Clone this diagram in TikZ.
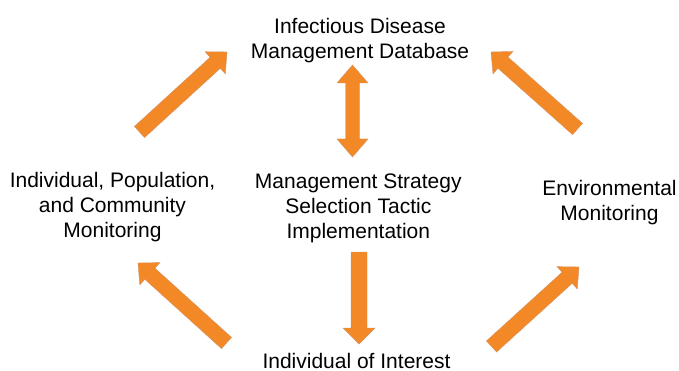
\documentclass[tikz,border=0pt]{standalone}
\usepackage{fontspec}
\setmainfont{Liberation Sans}
\usetikzlibrary{calc}

\definecolor{arroworange}{RGB}{242,137,38}
\definecolor{arrowedge}{RGB}{214,145,100}

\tikzset{
  lbl/.style={font=\fontsize{21}{25}\selectfont, align=center, inner sep=0pt, anchor=north},
  blockarrow/.style={fill=arroworange, draw=arrowedge, line width=0.4pt, line join=miter},
}

% single-headed block arrow: tail, tip, half shaft width, half head width, head length
\newcommand{\blockarrow}[5]{%
  \coordinate (ba-neck) at ($(#2)!#5!(#1)$);
  \filldraw[blockarrow]
    ($(#1)!#3!90:(#2)$) -- ($(ba-neck)!#3!-90:(#1)$) -- ($(ba-neck)!#4!-90:(#1)$)
    -- (#2) -- ($(ba-neck)!#4!90:(#1)$) -- ($(ba-neck)!#3!90:(#1)$)
    -- ($(#1)!#3!-90:(#2)$) -- cycle;
}

% double-headed block arrow: end A, end B, half shaft width, half head width, head length
\newcommand{\twowayarrow}[5]{%
  \coordinate (ba-necka) at ($(#1)!#5!(#2)$);
  \coordinate (ba-neckb) at ($(#2)!#5!(#1)$);
  \filldraw[blockarrow]
    (#1) -- ($(ba-necka)!#4!90:(#2)$) -- ($(ba-necka)!#3!90:(#2)$)
    -- ($(ba-neckb)!#3!-90:(#1)$) -- ($(ba-neckb)!#4!-90:(#1)$)
    -- (#2) -- ($(ba-neckb)!#4!90:(#1)$) -- ($(ba-neckb)!#3!90:(#1)$)
    -- ($(ba-necka)!#3!-90:(#2)$) -- ($(ba-necka)!#4!-90:(#2)$) -- cycle;
}

\begin{document}
\begin{tikzpicture}[x=1pt, y=-1pt]
  \fill[white] (0,0) rectangle (679,371);
  \useasboundingbox (0,0) rectangle (679,371);

  % labels
  \node[lbl] (db)    at (360,17.7)  {Infectious Disease\\Management Database};
  \node[lbl] (popn)  at (112.5,171.7) {Individual, Population,\\and Community\\Monitoring};
  \node[lbl] (strat) at (358.3,173.3) {Management Strategy\\Selection Tactic\\Implementation};
  \node[lbl] (env)   at (609.5,180) {Environmental\\Monitoring};
  \node[lbl] (indiv) at (356.5,353.5) {Individual of Interest};

  % arrow end points
  \coordinate (tl-tail) at (139.5,132);
  \coordinate (tl-tip)  at (227,52);
  \coordinate (tr-tail) at (577.5,129);
  \coordinate (tr-tip)  at (491,52);
  \coordinate (bl-tail) at (226.5,343);
  \coordinate (bl-tip)  at (138,263);
  \coordinate (br-tail) at (491.5,346.5);
  \coordinate (br-tip)  at (579,267);
  \coordinate (db-up)   at (352.5,65);
  \coordinate (db-down) at (352.5,157);
  \coordinate (dn-tail) at (359,252);
  \coordinate (dn-tip)  at (359,344);

  % arrows
  \blockarrow{tl-tail}{tl-tip}{7.5pt}{15pt}{16pt}
  \blockarrow{tr-tail}{tr-tip}{7.5pt}{15pt}{16pt}
  \blockarrow{bl-tail}{bl-tip}{7.5pt}{15pt}{16pt}
  \blockarrow{br-tail}{br-tip}{7.5pt}{15pt}{16pt}
  \twowayarrow{db-up}{db-down}{7pt}{15.5pt}{18pt}
  \blockarrow{dn-tail}{dn-tip}{8pt}{16pt}{16pt}
\end{tikzpicture}
\end{document}
